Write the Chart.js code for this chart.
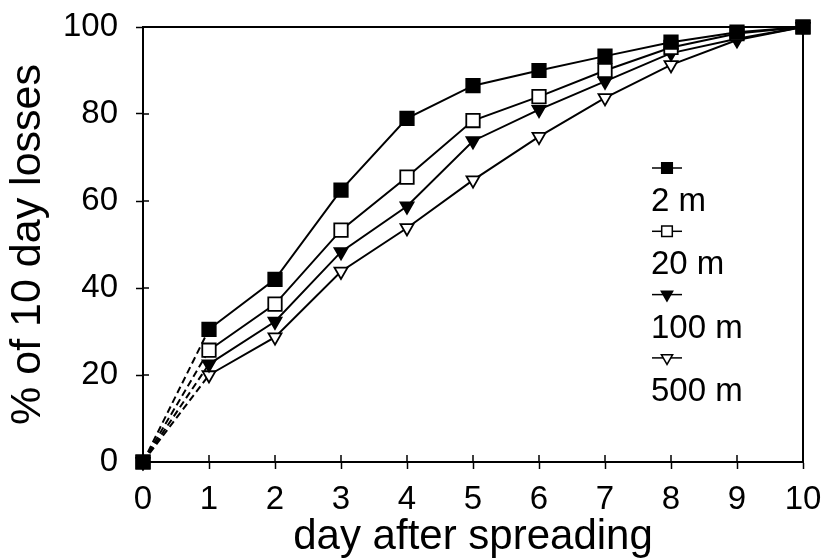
<!DOCTYPE html>
<html>
<head>
<meta charset="utf-8">
<script src="https://cdn.jsdelivr.net/npm/chart.js@4/dist/chart.umd.min.js"></script>
<style>
  html, body { margin: 0; padding: 0; background: #fff; }
  #wrap { width: 822px; height: 560px; }
</style>
</head>
<body>
<div id="wrap"><canvas id="c" width="822" height="560"></canvas></div>
<script>
// Cumulative share of the 10-day losses, by distance from the spreading site
const days = [0, 1, 2, 3, 4, 5, 6, 7, 8, 9, 10];
const loss2m   = [0, 30.5, 42.0, 62.5, 79.0, 86.5, 90.0, 93.3, 96.5, 98.8, 100];
const loss20m  = [0, 25.7, 36.3, 53.3, 65.5, 78.5, 84.0, 90.0, 95.3, 98.5, 100];
const loss100m = [0, 22.5, 32.3, 48.3, 58.8, 73.8, 81.0, 87.5, 94.0, 97.3, 100];
const loss500m = [0, 20.0, 28.7, 43.8, 53.8, 64.8, 74.8, 83.7, 91.3, 97.0, 100];
const seriesLabels = ['2 m', '20 m', '100 m', '500 m'];
const yTicks = [0, 20, 40, 60, 80, 100];

const FONT = "'Liberation Sans', Arial, sans-serif";

function series(label, values, style, fill, rotation) {
  return {
    label: label,
    data: days.map((d, i) => ({ x: d, y: values[i] })),
    borderColor: '#000',
    borderWidth: 2,
    pointStyle: style,
    pointRotation: rotation,
    pointRadius: style === 'rect' ? 9.5 : 7.5,
    pointHoverRadius: style === 'rect' ? 9.5 : 7.5,
    pointBackgroundColor: fill,
    pointBorderColor: '#000',
    pointBorderWidth: 1.8,
    tension: 0,
    fill: false,
    clip: false,
    segment: {
      borderDash: ctx => ctx.p0DataIndex === 0 ? [7, 4] : undefined
    }
  };
}

// lower order draws on top, so the 2 m squares stay visible
const datasets = [
  series(seriesLabels[0], loss2m, 'rect', '#000', 0),
  series(seriesLabels[1], loss20m, 'rect', '#fff', 0),
  series(seriesLabels[2], loss100m, 'triangle', '#000', 180),
  series(seriesLabels[3], loss500m, 'triangle', '#fff', 180)
];
datasets.forEach((ds, i) => { ds.order = i; });

// Frame on top/right plus tick marks that cross into the plot area
const framePlugin = {
  id: 'frame',
  beforeDatasetsDraw(chart) {
    const { ctx, chartArea: a, scales } = chart;
    ctx.save();
    ctx.strokeStyle = '#000';
    ctx.lineWidth = 2;
    ctx.beginPath();
    ctx.moveTo(a.left, a.top);
    ctx.lineTo(a.right, a.top);
    ctx.lineTo(a.right, a.bottom);
    ctx.stroke();
    ctx.lineWidth = 1.5;
    ctx.beginPath();
    days.forEach(d => {
      const px = scales.x.getPixelForValue(d);
      ctx.moveTo(px, a.bottom);
      ctx.lineTo(px, a.bottom - 7);
    });
    yTicks.forEach(v => {
      const py = scales.y.getPixelForValue(v);
      ctx.moveTo(a.left, py);
      ctx.lineTo(a.left + 6, py);
    });
    ctx.stroke();
    ctx.restore();
  }
};

// Stacked legend: marker on a short line, label underneath
const stackedLegend = {
  id: 'stackedLegend',
  afterDraw(chart) {
    const { ctx } = chart;
    const x0 = 652, lineLen = 30, y0 = 168, step = 63.3;
    ctx.save();
    chart.data.datasets.forEach((ds, i) => {
      const my = y0 + i * step;
      ctx.strokeStyle = '#000';
      ctx.lineWidth = 1.5;
      ctx.beginPath();
      ctx.moveTo(x0, my);
      ctx.lineTo(x0 + lineLen, my);
      ctx.stroke();
      ctx.fillStyle = ds.pointBackgroundColor;
      ctx.strokeStyle = '#000';
      ctx.lineWidth = 1.5;
      Chart.helpers.drawPoint(ctx, {
        pointStyle: ds.pointStyle,
        rotation: ds.pointRotation,
        radius: ds.pointStyle === 'rect' ? 7.5 : 6.5,
        borderWidth: 1.5
      }, x0 + lineLen / 2, my);
      ctx.fillStyle = '#000';
      ctx.font = '33px ' + FONT;
      ctx.textAlign = 'left';
      ctx.textBaseline = 'alphabetic';
      ctx.fillText(ds.label, x0 - 1, my + 43);
    });
    ctx.restore();
  }
};

new Chart(document.getElementById('c'), {
  type: 'line',
  data: { datasets: datasets },
  options: {
    responsive: false,
    animation: false,
    layout: { padding: { left: 0, top: 27, right: 19, bottom: 0 } },
    plugins: {
      legend: { display: false },
      tooltip: { enabled: false }
    },
    scales: {
      x: {
        type: 'linear',
        min: 0, max: 10,
        afterFit: s => { s.height = 98; s.paddingLeft = 0; s.paddingRight = 0; },
        ticks: {
          stepSize: 1,
          color: '#000',
          font: { family: FONT, size: 33 },
          padding: 11,
          maxRotation: 0
        },
        grid: { drawOnChartArea: false, tickLength: 7, tickWidth: 1.5, tickColor: '#000' },
        border: { color: '#000', width: 2 },
        title: {
          display: true,
          text: 'day after spreading',
          color: '#000',
          font: { family: FONT, size: 42 },
          padding: { top: 0, bottom: -3 }
        }
      },
      y: {
        min: 0, max: 100,
        afterFit: s => { s.width = 143; s.paddingTop = 0; s.paddingBottom = 0; },
        afterBuildTicks: s => { s.ticks = yTicks.map(v => ({ value: v })); },
        ticks: {
          color: '#000',
          font: { family: FONT, size: 33 },
          padding: 18
        },
        grid: { drawOnChartArea: false, tickLength: 7, tickWidth: 1.5, tickColor: '#000' },
        border: { color: '#000', width: 2 },
        title: {
          display: true,
          text: '% of 10 day losses',
          color: '#000',
          font: { family: FONT, size: 43 },
          padding: { top: 2, bottom: 0 }
        }
      }
    }
  },
  plugins: [framePlugin, stackedLegend]
});
</script>
</body>
</html>
